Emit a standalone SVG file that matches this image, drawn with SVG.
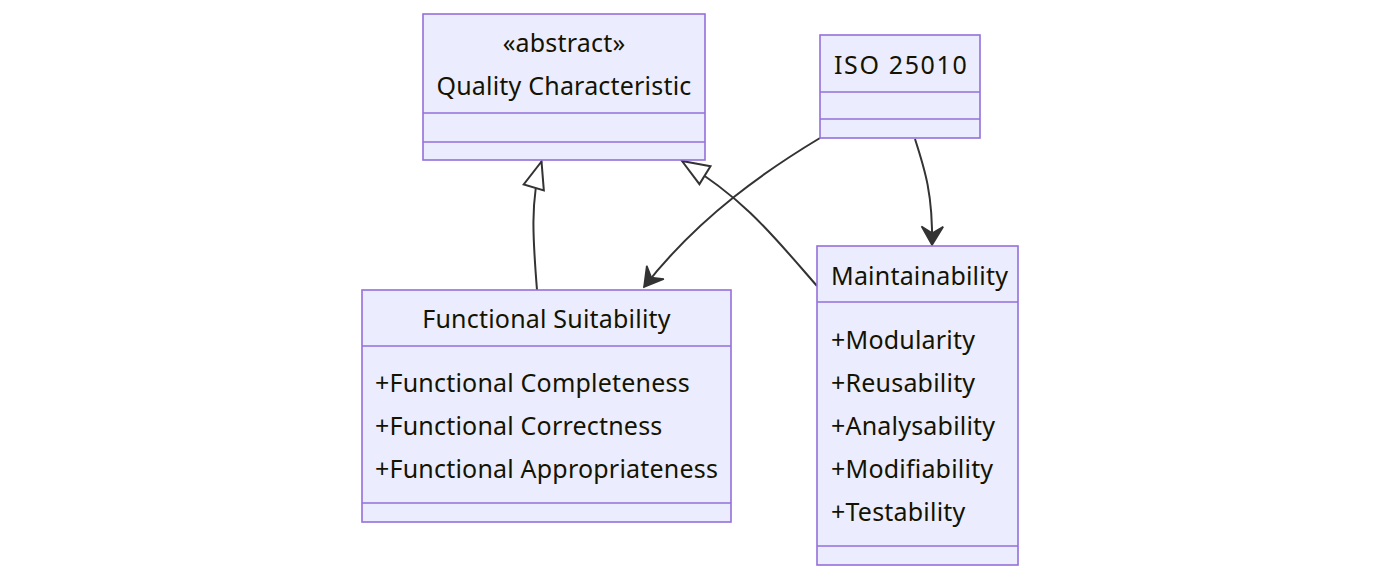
<svg xmlns="http://www.w3.org/2000/svg" width="1379" height="579" viewBox="0 0 1379 579">
<style>
.box{fill:#ECECFF;stroke:#9370DB;stroke-width:1.6}
.div{stroke:#9370DB;stroke-width:1.6;fill:none}
.t{font-family:"Noto Sans","Liberation Sans",sans-serif;font-size:25px;letter-spacing:0.2px;fill:#131300}
.c{text-anchor:middle}
.edge{fill:none;stroke:#333333;stroke-width:2}
</style>
<defs>
<marker id="ext" markerUnits="userSpaceOnUse" markerWidth="32" markerHeight="26" viewBox="-29 -12 32 24" refX="0" refY="0" orient="auto">
<path d="M0,0 L-27,-10.5 L-27,10.5 Z" fill="#ffffff" stroke="#333333" stroke-width="2" stroke-linejoin="miter"/>
</marker>
<marker id="dep" markerUnits="userSpaceOnUse" markerWidth="24" markerHeight="26" viewBox="-20 -12 22 24" refX="0" refY="0" orient="auto">
<path d="M0,0 L-17,-10 L-11,0 L-17,10 Z" fill="#333333" stroke="#333333" stroke-width="1.5" stroke-linejoin="miter"/>
</marker>
</defs>
<rect width="1379" height="579" fill="#ffffff"/>
<g id="edges">
<path class="edge" d="M537,290 C533,240 530,200 541.5,161.5" marker-end="url(#ext)"/>
<path class="edge" d="M817,286 C770,232 745,200 682,161" marker-end="url(#ext)"/>
<path class="edge" d="M820,138 C770,168 700,215 644,287" marker-end="url(#dep)"/>
<path class="edge" d="M915,139 C925,170 933,195 932,245" marker-end="url(#dep)"/>
</g>
<g id="QualityCharacteristic">
<rect class="box" x="423" y="14" width="282" height="146"/>
<line class="div" x1="423" y1="113" x2="705" y2="113"/>
<line class="div" x1="423" y1="142" x2="705" y2="142"/>
<text class="t c" x="564" y="52">«abstract»</text>
<text class="t c" x="564" y="95">Quality Characteristic</text>
</g>
<g id="ISO25010">
<rect class="box" x="820" y="35" width="160" height="103"/>
<line class="div" x1="820" y1="92" x2="980" y2="92"/>
<line class="div" x1="820" y1="119" x2="980" y2="119"/>
<text class="t" x="834" y="74" textLength="133" lengthAdjust="spacing">ISO 25010</text>
</g>
<g id="FunctionalSuitability">
<rect class="box" x="362" y="290" width="369" height="232"/>
<line class="div" x1="362" y1="346" x2="731" y2="346"/>
<line class="div" x1="362" y1="503" x2="731" y2="503"/>
<text class="t c" x="546.5" y="328">Functional Suitability</text>
<text class="t" x="375" y="392">+Functional Completeness</text>
<text class="t" x="375" y="435">+Functional Correctness</text>
<text class="t" x="375" y="478">+Functional Appropriateness</text>
</g>
<g id="Maintainability">
<rect class="box" x="817" y="246" width="201" height="319"/>
<line class="div" x1="817" y1="302" x2="1018" y2="302"/>
<line class="div" x1="817" y1="546" x2="1018" y2="546"/>
<text class="t" x="831" y="285">Maintainability</text>
<text class="t" x="831" y="349">+Modularity</text>
<text class="t" x="831" y="392">+Reusability</text>
<text class="t" x="831" y="435">+Analysability</text>
<text class="t" x="831" y="478">+Modifiability</text>
<text class="t" x="831" y="521">+Testability</text>
</g>
</svg>
